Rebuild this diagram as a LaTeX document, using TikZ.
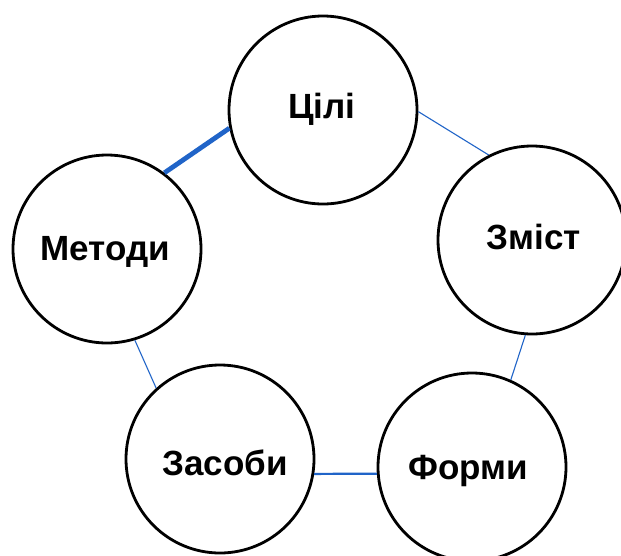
\documentclass[tikz,border=0pt]{standalone}
\usepackage{fontspec}
\setmainfont{Liberation Sans}
\definecolor{linkblue}{RGB}{32,100,200}
\begin{document}
\begin{tikzpicture}[x=1pt,y=-1pt,
  ring/.style={circle,draw=black,line width=2.8pt,minimum size=188pt,inner sep=0pt},
  lbl/.style={anchor=base,inner sep=0pt,font=\fontsize{35}{42}\selectfont\bfseries},
  thinlink/.style={draw=linkblue,line width=1.1pt},
  midlink/.style={draw=linkblue,line width=2.2pt},
  thicklink/.style={draw=linkblue,line width=4.8pt}]
\useasboundingbox[fill=white] (0,0) rectangle (621,555);
\node[ring] (tsili) at (323,110) {};
\node[ring] (metody) at (107,249) {};
\node[ring] (zmist) at (532,240) {};
\node[ring] (zasoby) at (220,459) {};
\node[ring] (formy) at (472,467) {};
\node[lbl] (ttsili) at (322,118) {Цілі};
\node[lbl] (tmetody) at (105,260) {Методи};
\node[lbl] (tzmist) at (534,249) {Зміст};
\node[lbl] (tzasoby) at (225,475) {Засоби};
\node[lbl] (tformy) at (468,479) {Форми};
\draw[thicklink] (tsili.191) -- (metody.53.6);
\draw[thinlink] (tsili.-1.2) -- (zmist.117);
\draw[thinlink] (zmist.266.3) -- (formy.66.6);
\draw[thinlink] (metody.-73.2) -- (zasoby.132.9);
\draw[midlink] (zasoby.-9.3) -- (formy.184);
\end{tikzpicture}
\end{document}
